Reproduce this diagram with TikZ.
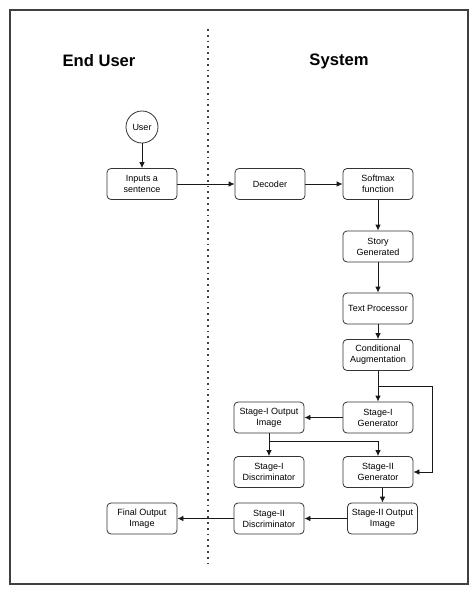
\documentclass[tikz,border=0pt]{standalone}
\usepackage{fontspec}
\setmainfont{Liberation Sans}
\usetikzlibrary{arrows.meta,calc}

\begin{document}
\begin{tikzpicture}[x=1pt,y=-1pt,
    box/.style={draw=black!80, line width=0.8pt, rounded corners=4pt, minimum width=70pt, minimum height=31pt, align=center, inner sep=1pt, font=\fontsize{9}{11}\selectfont},
    arr/.style={-{Latex[length=6pt,width=5.5pt]}, line width=0.8pt, black!90},
    lane/.style={font=\fontsize{16.6}{20}\selectfont\bfseries}]
    \useasboundingbox (0,0) rectangle (474,590);

    % Frame
    \draw[line width=1.5pt, black!75] (10,10) rectangle (468,584);

    % Swimlane divider
    \draw[line width=1.7pt, black!75, dash pattern=on 1.7pt off 4.1pt] (208,29) -- (208,566);

    \node[lane] (enduser) at (99,61) {End User};
    \node[lane] (system) at (339,61) {System};

    % End user side
    \node[circle, draw=black!80, line width=0.8pt, minimum size=32pt, inner sep=0pt, font=\fontsize{9}{11}\selectfont] (user) at (142,127) {User};
    \node[box] (inputs) at (142,184) {Inputs a\\sentence};
    \node[box] (final) at (142,518.5) {Final Output\\Image};

    % System side
    \node[box] (decoder) at (270,184) {Decoder};
    \node[box] (softmax) at (378,184) {Softmax\\function};
    \node[box] (story) at (378,246.5) {Story\\Generated};
    \node[box] (textproc) at (378,308.5) {Text Processor};
    \node[box] (condaug) at (378,355) {Conditional\\Augmentation};
    \node[box] (gen1) at (378,417.5) {Stage-I\\Generator};
    \node[box] (out1) at (269,417.5) {Stage-I Output\\Image};
    \node[box] (disc1) at (269,472) {Stage-I\\Discriminator};
    \node[box] (gen2) at (378,472) {Stage-II\\Generator};
    \node[box] (out2) at (382.5,518.5) {Stage-II Output\\Image};
    \node[box] (disc2) at (269,518.5) {Stage-II\\Discriminator};

    % Flow
    \draw[arr] (user) -- (inputs);
    \draw[arr] (inputs) -- (decoder);
    \draw[arr] (decoder) -- (softmax);
    \draw[arr] (softmax) -- (story);
    \draw[arr] (story) -- (textproc);
    \draw[arr] (textproc) -- (condaug);
    \draw[arr] (condaug) -- (gen1);
    \draw[arr] ($(condaug.south)+(0,15)$) -- ++(54,0) |- (gen2.east);
    \draw[arr] (gen1) -- (out1);
    \draw[arr] (out1) -- (disc1);
    \draw[arr] ($(out1.south)+(0,8)$) -| (gen2.north);
    \draw[arr] (out2.north |- gen2.south) -- (out2.north);
    \draw[arr] (out2) -- (disc2);
    \draw[arr] (disc2) -- (final);
\end{tikzpicture}
\end{document}
